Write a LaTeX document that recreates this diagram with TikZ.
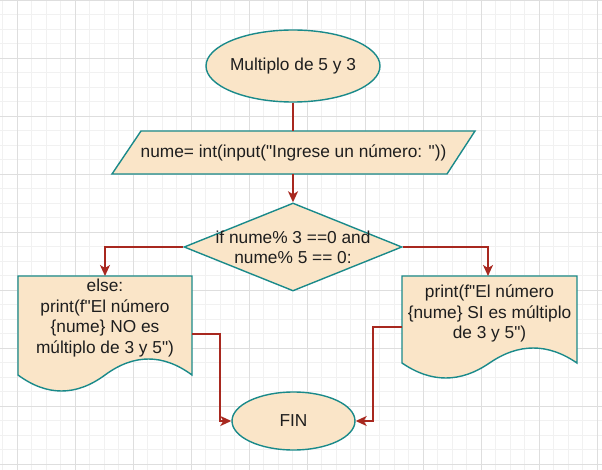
\documentclass[tikz,border=0pt]{standalone}
\usepackage{fontspec}
\setmainfont{Liberation Sans}[Ligatures=TeXOff]
\usetikzlibrary{arrows.meta,shapes.geometric}
\definecolor{fillc}{HTML}{FAE5C8}
\definecolor{strokec}{HTML}{1A8A8A}
\definecolor{arrowc}{HTML}{A8281F}
\definecolor{textc}{HTML}{1E1E1E}
\definecolor{minorg}{HTML}{F1F1F1}
\definecolor{majorg}{HTML}{DEDEDE}
\tikzset{
  shapebox/.style={draw=strokec, fill=fillc, line width=1.4pt},
  txt/.style={text=textc, align=center, inner sep=0pt, font=\fontsize{17.3}{20.5}\selectfont},
  conn/.style={draw=arrowc, line width=1.6pt},
  arr/.style={conn, -{Stealth[length=11pt,width=10pt,inset=3pt]}},
}
\begin{document}
\begin{tikzpicture}[x=1pt,y=-1pt]
\useasboundingbox (0,0) rectangle (602,470);
\fill[white] (0,0) rectangle (602,470);
% grid
\foreach \i in {0,...,41} {\draw[minorg, line width=0.8pt] ({2.8+14.5*\i},0) -- ++(0,470);}
\foreach \i in {0,...,33} {\draw[minorg, line width=0.8pt] (0,{14.5*\i}) -- ++(602,0);}
\foreach \i in {0,...,10} {\draw[majorg, line width=0.9pt] ({17.3+58*\i},0) -- ++(0,470);}
\foreach \i in {0,...,8} {\draw[majorg, line width=0.9pt] (0,{58*\i}) -- ++(602,0);}

% start
\node[ellipse, shapebox, minimum width=174pt, minimum height=72pt, inner sep=0pt] (start) at (293,66) {};
\node[txt] (starttxt) at (start) {Multiplo de 5 y 3};

% input parallelogram
\draw[shapebox] (141,131) -- (475,131) -- (447,174) -- (112,174) -- cycle;
\coordinate (inpT) at (293,131);
\coordinate (inpB) at (293,174);
\node[txt] (inptxt) at (293.5,152.5) {nume= int(input("Ingrese un número: "))};

% decision
\node[diamond, shapebox, minimum width=218pt, minimum height=88pt, inner sep=0pt] (dec) at (293,247) {};
\node[txt] (dectxt) at (293,247.5) {if nume\% 3 ==0 and\\nume\% 5 == 0:};

% left document
\draw[shapebox] (18,276) -- (192,276) -- (192,375)
  .. controls (163,353.67) and (134,353.67) .. (105,375)
  .. controls (76,396.33) and (47,396.33) .. (18,375) -- cycle;
\coordinate (ldocT) at (105,276);
\coordinate (ldocR) at (192,334);
\node[txt] (ldoctxt) at (105,318) {else:\\print(f"El número\\\{nume\} NO es\\múltiplo de 3 y 5")};

% right document
\draw[shapebox] (402,276) -- (577,276) -- (577,363)
  .. controls (547.8,343) and (518.7,343) .. (489.5,363)
  .. controls (460.3,383) and (431.2,383) .. (402,363) -- cycle;
\coordinate (rdocT) at (488,276);
\coordinate (rdocL) at (402,327);
\node[txt] (rdoctxt) at (489.5,313.5) {print(f"El número\\\{nume\} SI es múltiplo\\de 3 y 5")};

% end
\node[ellipse, shapebox, minimum width=123pt, minimum height=58pt, inner sep=0pt] (fin) at (293.5,421) {};
\node[txt] (fintxt) at (fin) {FIN};

% connectors
\draw[conn] (start.south) -- (inpT);
\draw[arr] (inpB) -- (dec.north);
\draw[arr] (dec.west) -| (ldocT);
\draw[arr] (dec.east) -| (rdocT);
\draw[arr] (ldocR) -- ++(28,0) |- (fin.west);
\draw[arr] (rdocL) -- ++(-29,0) |- (fin.east);
\end{tikzpicture}
\end{document}
